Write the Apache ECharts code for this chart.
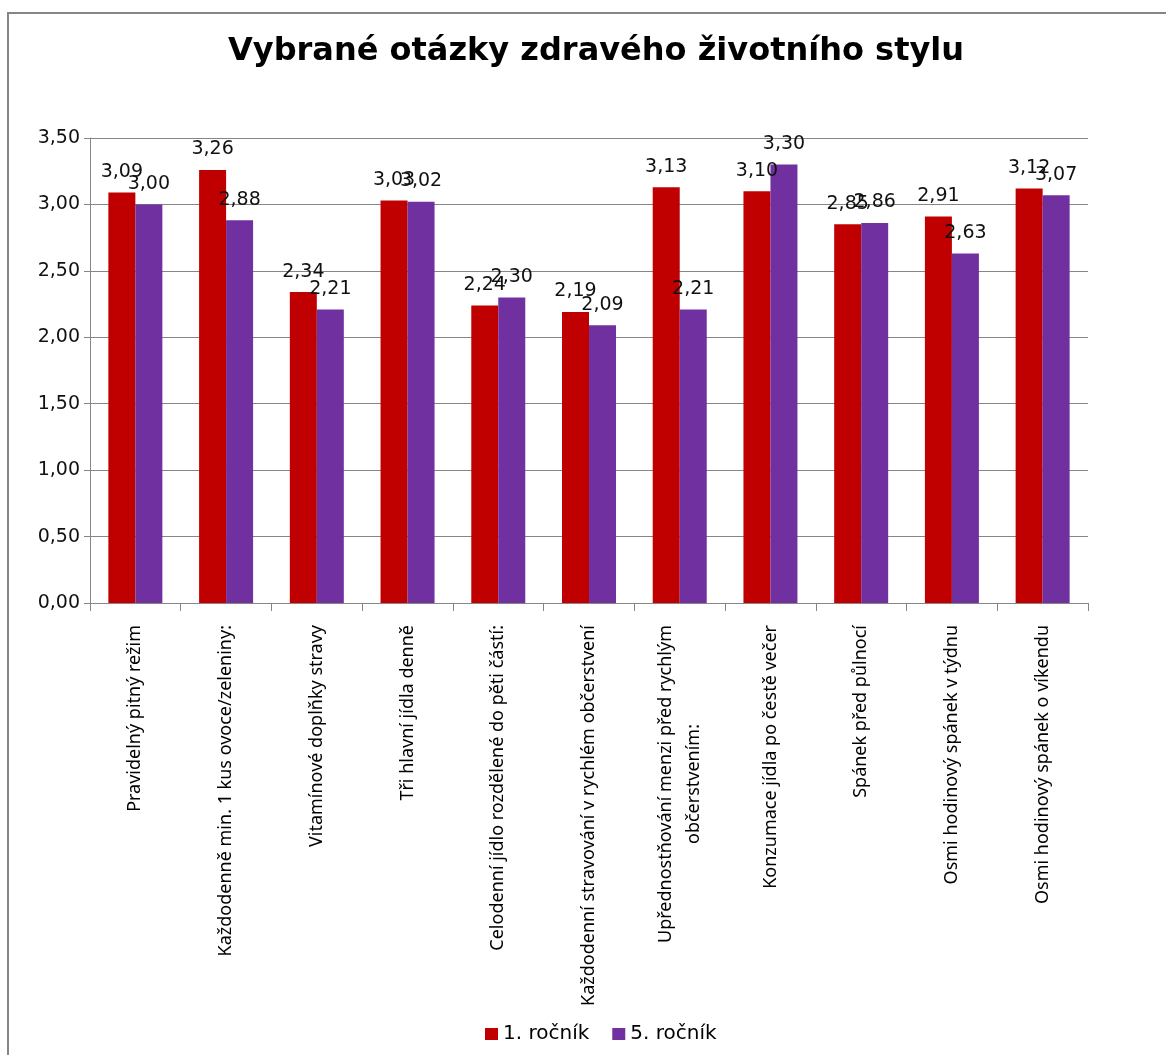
<!DOCTYPE html>
<html>
<head>
<meta charset="utf-8">
<script src="https://cdn.jsdelivr.net/npm/echarts@6/dist/echarts.min.js"></script>
<style>
html,body{margin:0;padding:0;background:#fff;}
#chart{width:1166px;height:1055px;}
</style>
</head>
<body>
<div id="chart"></div>
<script>
const titleText = 'Vybrané otázky zdravého životního stylu';
const categories = [
  'Pravidelný pitný režim',
  'Každodenně min. 1 kus ovoce/zeleniny:',
  'Vitamínové doplňky stravy',
  'Tři hlavní jídla denně',
  'Celodenní jídlo rozdělené do pěti částí:',
  'Každodenní stravování v rychlém občerstvení',
  'Upřednostňování menzi před rychlým\nobčerstvením:',
  'Konzumace jídla po čestě večer',
  'Spánek před půlnocí',
  'Osmi hodinový spánek v týdnu',
  'Osmi hodinový spánek o víkendu'
];
const seriesNames = ['1. ročník', '5. ročník'];
const rocnik1 = [3.09, 3.26, 2.34, 3.03, 2.24, 2.19, 3.13, 3.10, 2.85, 2.91, 3.12];
const rocnik5 = [3.00, 2.88, 2.21, 3.02, 2.30, 2.09, 2.21, 3.30, 2.86, 2.63, 3.07];
const yTicks = [0, 0.5, 1, 1.5, 2, 2.5, 3, 3.5];

const fmt = v => Number(v).toFixed(2).replace('.', ',');
const chart = echarts.init(document.getElementById('chart'));
const labelFont = 'DejaVu Sans';
const dataLabel = {
  show: true, position: 'top', distance: 11,
  fontFamily: labelFont, fontSize: 19, color: '#111',
  formatter: p => fmt(p.value)
};
chart.setOption({
  animation: false,
  backgroundColor: '#fff',
  title: {
    text: titleText, left: 223, top: 31,
    textStyle: {fontFamily: 'DejaVu Sans', fontWeight: 'bold', fontSize: 32, color: '#000'}
  },
  graphic: [{
    type: 'rect', shape: {x: 8, y: 13, width: 1200, height: 1100},
    style: {fill: 'none', stroke: '#868686', lineWidth: 2}, silent: true
  }],
  legend: {
    top: 1019, left: 480, icon: 'rect', itemWidth: 13, itemHeight: 12, itemGap: 23,
    textStyle: {fontFamily: labelFont, fontSize: 20, color: '#000'},
    data: seriesNames
  },
  grid: {left: 90, right: 78, top: 138, bottom: 452, containLabel: false},
  xAxis: {
    type: 'category', data: categories,
    axisLine: {lineStyle: {color: '#868686', width: 1}},
    axisTick: {show: true, length: 8, lineStyle: {color: '#868686'}},
    axisLabel: {
      interval: 0, rotate: 90, margin: 22,
      fontFamily: 'Noto Sans', fontSize: 18, color: '#000',
      formatter: v => v.split('\n').map(s => '{c|' + s + '}').join('\n'),
      rich: {c: {align: 'center', fontFamily: 'Noto Sans', fontSize: 18, color: '#000', lineHeight: 28}}
    }
  },
  yAxis: {
    type: 'value', min: yTicks[0], max: yTicks[yTicks.length - 1], interval: 0.5,
    axisLine: {show: true, lineStyle: {color: '#868686'}},
    axisTick: {show: true, length: 6, lineStyle: {color: '#868686'}},
    splitLine: {lineStyle: {color: '#868686', width: 1}},
    axisLabel: {formatter: v => fmt(v), fontFamily: labelFont, fontSize: 19, color: '#111', margin: 10}
  },
  series: [
    {name: seriesNames[0], type: 'bar', data: rocnik1, barWidth: 27, barGap: '0%',
     itemStyle: {color: '#C00000'}, label: dataLabel},
    {name: seriesNames[1], type: 'bar', data: rocnik5, barWidth: 27, barGap: '0%',
     itemStyle: {color: '#7030A0'}, label: dataLabel}
  ]
});
</script>
</body>
</html>
